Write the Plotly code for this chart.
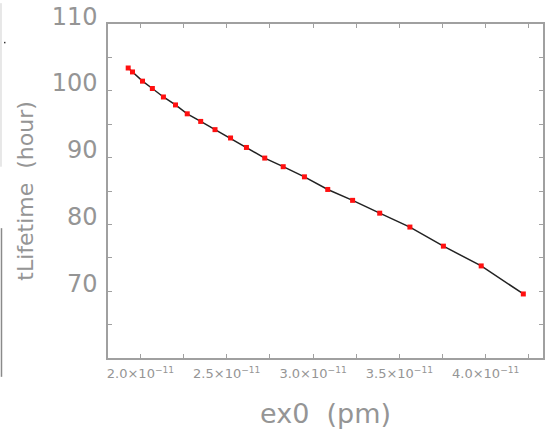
import plotly.graph_objects as go

ex0 = [1.929e-11, 1.954e-11, 2.012e-11, 2.069e-11, 2.133e-11, 2.203e-11, 2.271e-11,
       2.349e-11, 2.432e-11, 2.522e-11, 2.614e-11, 2.720e-11, 2.827e-11, 2.950e-11,
       3.085e-11, 3.229e-11, 3.386e-11, 3.561e-11, 3.755e-11, 3.974e-11, 4.218e-11]
lifetime = [103.43, 102.84, 101.46, 100.36, 99.09, 97.90, 96.57, 95.43, 94.20, 92.95,
            91.53, 89.94, 88.65, 87.13, 85.24, 83.61, 81.69, 79.61, 76.75, 73.79, 69.59]

x_tickvals = [2.0e-11, 2.5e-11, 3.0e-11, 3.5e-11, 4.0e-11]
x_ticktext = ["2.0×10<sup>−11</sup>", "2.5×10<sup>−11</sup>", "3.0×10<sup>−11</sup>",
              "3.5×10<sup>−11</sup>", "4.0×10<sup>−11</sup>"]
y_tickvals = [70, 80, 90, 100, 110]
y_ticktext = ["70", "80", "90", "100", "110"]

TXT = "#959595"
AX = "#a0a0a0"
FONT = "DejaVu Sans"

fig = go.Figure()
fig.add_trace(go.Scatter(
    x=ex0, y=lifetime, mode="lines+markers",
    line=dict(color="#222222", width=1.5),
    marker=dict(symbol="square", size=5, color="#ff1010", line=dict(width=0)),
    showlegend=False, hoverinfo="skip"))

fig.update_layout(
    width=548, height=433,
    margin=dict(l=108, r=3, t=21, b=75),
    paper_bgcolor="white", plot_bgcolor="white",
    xaxis=dict(
        range=[1.812e-11, 4.332e-11],
        tickmode="array", tickvals=x_tickvals, ticktext=x_ticktext,
        ticks="inside", ticklen=4, tickwidth=1, tickcolor=AX,
        minor=dict(tickmode="linear", tick0=2.0e-11, dtick=0.25e-11,
                   ticks="inside", ticklen=4, tickcolor=AX),
        showline=True, linecolor=AX, linewidth=1.5, mirror="ticks",
        showgrid=False, zeroline=False,
        ticklabelstandoff=3,
        tickfont=dict(family=FONT, size=13, color=TXT),
        title=dict(text="ex0  (pm)", font=dict(family=FONT, size=27, color=TXT), standoff=24),
    ),
    yaxis=dict(
        range=[60, 110.02],
        tickmode="array", tickvals=y_tickvals, ticktext=y_ticktext,
        ticks="inside", ticklen=4, tickwidth=1, tickcolor=AX,
        minor=dict(tickmode="linear", tick0=60, dtick=5,
                   ticks="inside", ticklen=4, tickcolor=AX),
        showline=True, linecolor=AX, linewidth=1.5, mirror="ticks",
        showgrid=False, zeroline=False,
        ticklabelshift=-8, ticklabelstandoff=4, ticklabeloverflow="allow",
        tickfont=dict(family=FONT, size=24, color=TXT),
        title=dict(text="tLifetime  (hour)", font=dict(family=FONT, size=22, color=TXT), standoff=12),
    ),
)

# edge artifacts at left of the screenshot
def px2paper_x(px):
    return (px - 108) / 437.0

def px2paper_y(py):
    return (358 - py) / 337.0

fig.add_shape(type="line", xref="paper", yref="paper",
              x0=px2paper_x(0.5), x1=px2paper_x(0.5), y0=px2paper_y(0), y1=px2paper_y(165),
              line=dict(color="#d0d0d0", width=1))
fig.add_shape(type="line", xref="paper", yref="paper",
              x0=px2paper_x(1), x1=px2paper_x(1), y0=px2paper_y(227), y1=px2paper_y(377),
              line=dict(color="#8a8a8a", width=1.5))
fig.add_shape(type="rect", xref="paper", yref="paper",
              x0=px2paper_x(3.5), x1=px2paper_x(5), y0=px2paper_y(40.5), y1=px2paper_y(39),
              line=dict(width=0), fillcolor="#333333")

fig.write_html("out.html")
